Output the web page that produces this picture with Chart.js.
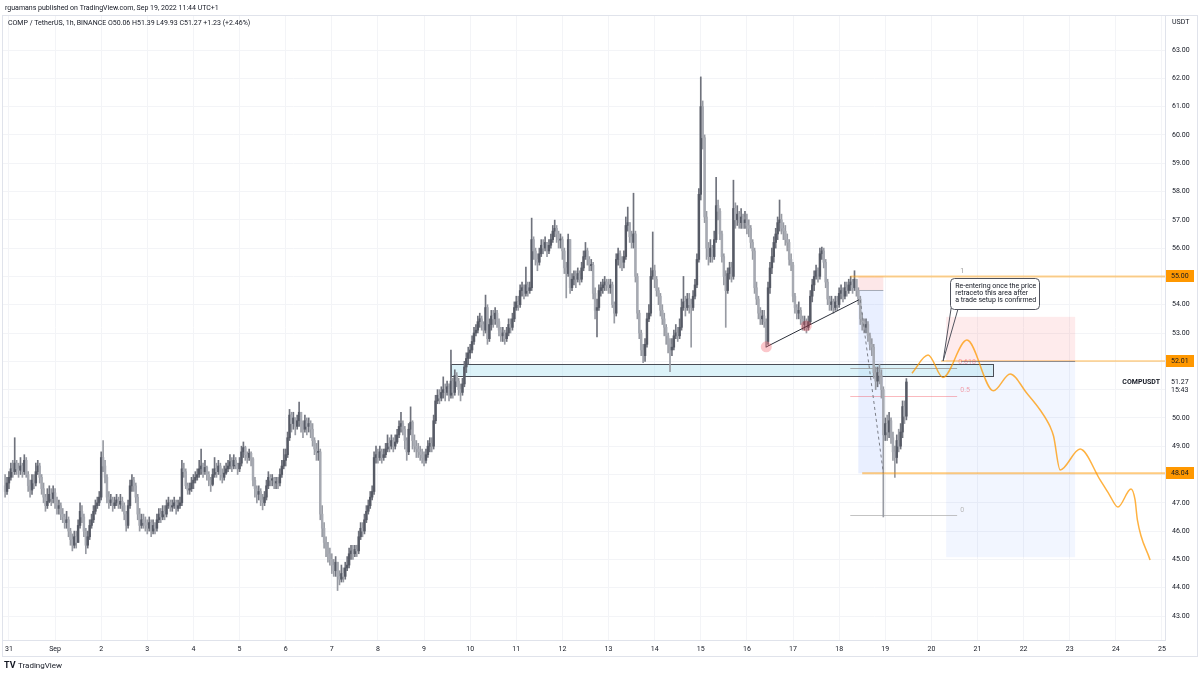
<!DOCTYPE html>
<html><head><meta charset="utf-8">
<script src="https://cdn.jsdelivr.net/npm/chart.js@4.4.0/dist/chart.umd.min.js"></script>
<style>html,body{margin:0;padding:0;background:#fff;}#wrap{position:relative;width:1200px;height:675px;}</style>
</head><body><div id="wrap"><canvas id="c" width="1200" height="675"></canvas></div>
<script>
// ---------- DATA (hourly candles, hour 0 = Aug 31 00:00) ----------
const firstHour = -2;
const firstOpen = 47.6;
const closes = [
 47.4,47.7,
 47.9,48.2,48.1,48.4,48.2,48.15,48.3,48.1,48.5,48.0,47.6,47.45,47.8,47.7,48.1,48.3,47.9,47.5,47.2,46.9,47.05,47.3,47.15,47.35,
 47.0,46.8,46.9,46.6,46.5,46.3,46.4,46.0,45.7,45.5,45.8,45.6,46.2,46.7,46.5,46.0,45.5,45.8,46.2,46.4,46.7,46.9,47.0,47.2,
 48.6,48.3,47.9,47.2,47.0,47.1,46.9,47.0,47.1,46.95,47.05,46.9,46.6,46.2,46.9,47.6,47.8,47.6,47.2,46.6,46.2,46.4,46.3,46.2,
 46.1,46.3,46.0,46.2,46.1,46.4,46.6,46.5,46.7,46.6,46.9,47.0,46.85,46.9,47.0,46.8,46.9,47.0,48.2,48.1,47.6,47.45,47.5,47.7,
 47.8,47.9,48.0,48.2,48.3,48.1,48.25,48.0,47.8,47.65,48.0,48.2,48.1,48.3,48.0,47.9,48.05,48.2,48.3,48.45,48.3,48.5,48.35,48.2,
 48.4,48.8,48.95,48.7,48.6,48.75,48.55,47.8,47.5,47.3,47.4,47.1,47.0,47.2,47.6,47.9,47.8,47.85,47.7,47.75,47.7,48.0,48.3,48.5,
 48.7,49.3,50.1,49.8,50.0,49.7,49.9,50.2,49.8,49.6,49.9,49.7,49.8,49.6,49.2,48.9,48.8,48.8,46.6,46.1,45.6,45.4,45.2,45.0,
 44.8,44.6,44.9,44.4,44.3,44.5,44.4,44.7,44.8,45.2,45.3,45.2,45.35,45.3,45.8,46.1,46.0,46.4,46.7,46.9,47.2,47.4,48.6,48.7,
 48.6,48.8,48.6,48.7,48.9,49.1,49.0,49.2,49.0,49.15,49.4,49.7,49.8,49.6,49.2,48.8,49.6,49.85,49.2,49.0,48.9,48.8,48.7,48.6,
 48.5,48.7,49.0,49.1,49.0,49.9,50.6,50.8,50.7,50.9,51.0,50.9,51.1,50.8,51.3,50.9,51.5,51.3,51.0,50.9,51.2,51.8,52.1,52.3,
 52.4,52.7,53.0,53.1,53.4,53.5,53.3,53.1,53.9,52.8,53.3,53.6,53.5,53.7,53.4,53.1,52.9,53.0,52.8,53.0,53.3,53.2,53.5,53.9,
 54.1,54.0,54.5,54.6,54.4,54.7,54.5,54.6,56.3,55.9,55.6,55.5,55.8,56.1,56.0,56.2,55.9,56.1,56.3,56.6,56.7,56.5,56.3,56.3,
 55.9,55.3,55.1,56.3,54.6,54.9,55.0,54.9,55.1,54.9,55.3,55.7,55.9,55.6,55.4,55.4,54.4,53.8,53.9,54.5,54.6,54.7,54.8,54.7,
 54.6,54.7,54.0,53.7,55.6,55.8,55.6,55.5,55.7,56.8,56.9,56.4,56.2,56.5,55.0,53.7,53.0,52.4,52.2,52.6,53.5,53.7,55.0,55.2,
 54.9,54.5,54.3,53.8,53.5,53.2,52.9,52.6,52.4,52.5,52.9,53.0,52.9,53.2,53.9,54.1,53.9,54.2,54.0,53.9,54.3,54.7,55.6,57.9,
 61.0,59.9,57.1,56.0,55.7,56.0,55.7,56.3,57.5,57.3,56.5,55.7,55.0,54.5,55.1,55.3,55.0,57.4,57.0,57.2,56.9,57.1,56.9,57.0,
 56.8,56.7,56.2,55.9,54.6,54.2,53.7,53.5,53.6,53.4,52.7,54.6,55.3,55.7,56.2,56.5,56.9,57.0,56.7,56.6,56.3,56.2,55.6,55.4,
 54.3,53.9,53.7,53.8,53.5,53.3,53.4,53.2,53.4,54.3,54.7,55.0,55.2,55.0,55.8,55.9,55.5,54.8,54.2,54.0,54.1,53.9,54.1,54.0,
 54.4,54.5,54.3,54.6,54.5,54.7,54.8,54.6,54.9,54.5,54.2,53.5,53.4,53.2,53.3,52.9,52.6,52.5,51.6,51.3,51.6,51.5,51.0,49.4,
 49.8,49.5,49.9,49.3,48.8,48.6,49.2,49.0,49.5,50.4,50.06,51.27
];
const highs = [
 48.0,47.9,
 48.1,48.4,48.5,49.3,48.5,48.4,48.6,48.4,48.7,48.6,48.1,47.8,48.0,48.0,48.4,48.5,48.4,48.0,47.7,47.3,47.5,47.6,47.5,47.6,
 47.5,47.2,47.1,47.0,46.8,46.6,46.7,46.5,46.1,45.9,46.0,46.0,46.4,47.0,46.9,46.6,46.1,46.0,46.4,46.6,46.9,47.1,47.2,47.4,
 48.8,49.2,48.5,48.0,47.4,47.3,47.2,47.2,47.3,47.2,47.3,47.2,47.0,46.7,47.1,47.8,48.0,47.9,47.7,47.3,46.8,46.6,46.6,46.5,
 46.4,46.5,46.4,46.4,46.3,46.6,46.8,46.8,46.9,46.9,47.1,47.2,47.1,47.1,47.2,47.1,47.1,47.2,48.5,48.4,48.2,47.7,47.7,47.9,
 48.0,48.1,48.2,48.5,48.9,48.4,48.5,48.3,48.1,47.9,48.2,48.6,48.4,48.5,48.4,48.2,48.3,48.4,48.5,48.7,48.6,48.7,48.6,48.4,
 48.6,49.0,49.15,49.0,48.8,48.9,48.8,48.6,47.9,47.6,47.6,47.5,47.3,47.4,47.8,48.1,48.0,48.0,47.9,47.9,47.9,48.2,48.5,48.9,
 48.9,49.5,50.3,50.2,50.2,50.0,50.1,50.56,50.2,49.9,50.1,50.0,50.0,49.9,49.8,49.3,49.1,49.2,48.9,46.9,46.3,45.8,45.6,45.4,
 45.2,45.0,45.1,44.9,44.6,44.8,44.7,44.9,45.1,45.4,45.5,45.5,45.5,45.5,46.0,46.3,46.3,46.6,46.9,47.1,47.4,47.6,48.8,49.0,
 48.9,49.0,48.9,48.9,49.1,49.4,49.3,49.4,49.3,49.4,49.6,49.9,50.2,49.9,49.7,49.3,49.8,50.39,49.9,49.4,49.2,49.1,49.0,48.9,
 48.8,48.9,49.2,49.3,49.3,50.1,50.8,51.0,51.0,51.1,51.45,51.2,51.3,51.2,52.4,51.4,51.7,51.6,51.4,51.2,51.4,52.0,52.3,52.5,
 52.6,52.9,53.2,53.3,53.6,53.7,53.6,53.4,54.34,54.0,53.5,53.8,53.8,53.9,53.8,53.5,53.2,53.2,53.1,53.2,53.5,53.5,53.7,54.1,
 54.3,54.3,54.7,54.8,54.7,55.33,54.8,54.8,57.06,56.4,56.0,55.8,56.0,56.3,56.3,56.4,56.2,56.3,56.5,56.8,56.99,56.8,56.6,56.5,
 56.4,56.0,55.5,56.5,56.3,55.1,55.2,55.2,55.3,55.2,55.5,55.9,56.2,56.0,55.7,55.6,55.5,54.6,54.2,54.7,54.8,54.9,55.0,54.9,
 54.9,54.9,54.8,54.1,55.8,56.0,55.9,55.7,55.9,57.1,57.45,56.9,56.6,57.94,56.6,55.1,53.8,53.1,52.6,52.8,53.7,54.0,55.3,56.57,
 55.4,55.0,54.6,54.4,54.0,53.7,53.3,53.0,52.8,52.8,53.1,53.3,53.2,53.5,54.2,55.0,54.3,54.4,54.4,54.2,54.5,54.9,55.8,58.1,
 62.05,61.2,60.0,57.3,56.2,56.3,56.1,56.6,58.5,57.7,57.4,56.6,55.8,55.2,55.3,55.5,55.5,58.4,57.6,57.5,57.3,57.4,57.2,57.3,
 57.2,57.0,56.8,56.3,56.0,54.8,54.3,53.9,53.8,53.8,53.5,54.8,55.5,56.0,56.4,56.7,57.1,57.7,57.2,56.9,56.8,56.5,56.3,55.8,
 55.5,54.4,54.0,54.1,53.9,53.6,53.6,53.5,53.6,54.5,54.9,55.2,55.4,55.3,56.0,56.04,56.0,55.6,54.9,54.3,54.3,54.2,54.3,54.3,
 54.6,54.7,54.6,54.8,54.8,54.9,55.0,54.9,55.2,54.9,54.6,54.3,53.7,53.5,53.5,53.4,53.0,52.8,52.6,51.8,51.8,51.9,51.7,51.1,
 50.0,50.1,50.2,50.0,49.5,49.0,49.4,49.6,49.8,50.6,50.6,51.39
];
const lows = [
 47.2,47.3,
 47.5,47.8,47.9,48.0,48.0,47.9,48.0,47.9,48.0,47.9,47.4,47.2,47.3,47.5,47.6,48.0,47.7,47.3,47.0,46.7,46.8,47.0,46.9,47.0,
 46.8,46.6,46.6,46.4,46.3,46.1,46.1,45.8,45.5,45.3,45.4,45.4,45.6,46.1,46.3,45.8,45.2,45.4,45.7,46.1,46.3,46.6,46.8,46.9,
 47.1,48.1,47.7,47.0,46.8,46.9,46.7,46.8,46.9,46.8,46.8,46.7,46.4,46.0,46.1,46.8,47.4,47.4,47.0,46.4,46.0,46.1,46.1,46.0,
 45.9,46.0,45.8,45.9,45.9,46.0,46.3,46.3,46.4,46.4,46.5,46.8,46.7,46.7,46.8,46.6,46.7,46.8,46.9,47.9,47.5,47.3,47.3,47.4,
 47.5,47.7,47.8,47.9,48.0,47.9,48.0,47.8,47.6,47.4,47.6,47.9,47.9,48.0,47.8,47.7,47.8,48.0,48.1,48.2,48.1,48.2,48.2,48.0,
 48.1,48.3,48.6,48.5,48.4,48.5,48.3,47.6,47.2,47.0,47.1,46.9,46.75,46.9,47.1,47.5,47.6,47.6,47.5,47.5,47.5,47.6,47.9,48.2,
 48.3,48.6,49.2,49.5,49.6,49.4,49.6,49.7,49.5,49.3,49.5,49.4,49.5,49.3,49.0,48.7,48.5,48.5,46.4,45.8,45.4,45.1,44.9,44.8,
 44.5,44.4,44.4,43.9,44.1,44.2,44.2,44.3,44.6,44.7,45.0,45.0,45.1,45.1,45.2,45.7,45.8,45.9,46.3,46.6,46.8,47.1,47.3,48.4,
 48.4,48.5,48.4,48.5,48.6,48.8,48.8,48.9,48.8,48.9,49.1,49.3,49.5,49.4,48.9,48.5,48.7,49.4,48.9,48.8,48.6,48.6,48.5,48.4,
 48.3,48.4,48.6,48.8,48.8,48.9,49.8,50.5,50.5,50.6,50.7,50.6,50.8,50.6,50.7,50.7,50.8,51.1,50.8,50.6,50.8,51.1,51.6,51.9,
 52.1,52.3,52.6,52.9,53.0,53.2,53.1,52.9,53.0,52.6,52.7,53.1,53.2,53.3,53.2,52.9,52.7,52.7,52.6,52.7,52.9,53.0,53.1,53.4,
 53.8,53.8,53.9,54.3,54.2,54.3,54.3,54.4,54.5,55.6,55.4,55.2,55.4,55.7,55.8,55.9,55.7,55.8,56.0,56.2,56.4,56.2,56.0,56.0,
 55.6,55.1,54.24,55.0,54.4,54.5,54.7,54.6,54.8,54.7,54.8,55.2,55.6,55.4,55.2,55.2,54.2,53.5,52.86,53.8,54.3,54.4,54.5,54.5,
 54.4,54.4,53.9,53.35,53.6,55.4,55.3,55.2,55.3,55.6,56.6,56.2,56.0,56.0,54.8,53.5,52.8,52.2,51.95,52.0,52.5,53.4,53.6,54.9,
 54.6,54.3,54.0,53.6,53.3,52.9,52.6,52.3,51.63,52.2,52.4,52.8,52.7,52.8,53.1,53.8,53.6,53.8,53.7,52.5,53.8,54.2,54.6,55.5,
 57.7,59.5,56.9,55.6,55.4,55.5,55.5,55.6,56.2,57.0,56.3,55.5,54.7,53.2,54.4,54.9,54.8,54.9,56.7,56.8,56.7,56.7,56.7,56.7,
 56.5,56.4,56.0,55.6,54.4,54.0,53.5,53.3,53.3,53.2,52.5,52.6,54.4,55.1,55.5,56.0,56.3,56.6,56.5,56.3,56.1,55.9,55.4,55.2,
 54.1,53.7,53.5,53.5,53.3,53.1,53.1,53.0,53.1,53.3,54.1,54.5,54.9,54.8,54.9,55.6,55.3,54.6,54.0,53.8,53.8,53.7,53.8,53.8,
 53.9,54.2,54.1,54.2,54.3,54.4,54.5,54.4,54.5,54.3,54.0,53.3,53.1,53.0,53.0,52.7,52.4,52.2,51.4,51.0,51.1,51.2,50.7,46.5,
 49.2,49.2,49.3,49.1,48.5,47.9,48.4,48.8,48.9,49.3,49.8,49.93
];
const dayLabels = ['31','Sep','2','3','4','5','6','7','8','9','10','11','12','13','14','15','16','17','18','19','20','21','22','23','24','25'];
const priceTicks = [43,44,45,46,47,48,49,50,51,52,53,54,55,56,57,58,59,60,61,62,63];
// projected path (hour, price)
const projHours  = [469.9,478.3,486.0,498.5,512.3,521.0,529.7,536.6,541.8,543.6,547.0,557.4,567.8,572.5,577.1,583.9,586.0,587.2,593.8];
const projPrices = [51.58,52.22,51.43,52.75,50.96,51.55,50.87,50.28,49.69,49.35,48.16,48.90,47.81,47.3,46.85,47.49,47.10,46.40,44.98];
// marked levels
const levelLabels = [55.00, 52.01, 48.04];
const lastPrice = 51.27;

// ---------- BUILD ----------
Chart.defaults.font.family = "Roboto, 'DejaVu Sans', sans-serif";
Chart.defaults.font.size = 7;
Chart.defaults.color = '#131722';
const hours = closes.map((_, i) => firstHour + i);
const opens = closes.map((c, i) => i === 0 ? firstOpen : closes[i - 1]);
const isUp = i => closes[i] >= opens[i];
const bodyCol = i => isUp(i) ? '#565a65' : '#a7aab2';
const wickCol = i => isUp(i) ? '#6f727c' : '#989ba3';
const wickData = closes.map((c, i) => ({x: hours[i], y: [Math.min(lows[i], opens[i], c), Math.max(highs[i], opens[i], c)]}));
const bodyData = closes.map((c, i) => { const o = opens[i]; return {x: hours[i], y: Math.abs(c - o) < 0.03 ? [o - 0.02, o + 0.02] : [o, c]}; });
const projData = projHours.map((h, i) => ({x: h, y: projPrices[i]}));

const overlay = {
  id: 'overlay',
  beforeDatasetsDraw(chart) {
    const {ctx, chartArea: a, scales: {x, y}} = chart;
    const X = v => x.getPixelForValue(v), Y = v => y.getPixelForValue(v);
    ctx.save();
    ctx.beginPath(); ctx.rect(a.left, a.top, a.right - a.left, a.bottom - a.top); ctx.clip();
    const rect = (h0, h1, p0, p1, fill) => { ctx.fillStyle = fill; ctx.fillRect(X(h0), Y(p0), X(h1) - X(h0), Y(p1) - Y(p0)); };
    rect(487.7, 554.8, 53.57, 52.01, 'rgba(242,54,69,0.10)');
    rect(487.7, 554.8, 52.01, 45.08, 'rgba(41,98,255,0.06)');
    rect(442.0, 455.0, 55.0, 54.52, 'rgba(242,54,69,0.12)');
    rect(442.0, 455.0, 54.52, 48.04, 'rgba(41,98,255,0.10)');
    ctx.strokeStyle = 'rgba(120,123,134,0.6)'; ctx.lineWidth = 1;
    ctx.beginPath(); ctx.moveTo(X(442), Y(54.52) + 0.5); ctx.lineTo(X(455), Y(54.52) + 0.5); ctx.stroke();
    const zx0 = X(229.8), zx1 = X(512.0), zy0 = Y(51.9), zy1 = Y(51.48);
    ctx.fillStyle = 'rgba(178,226,240,0.45)'; ctx.fillRect(zx0, zy0, zx1 - zx0, zy1 - zy0);
    ctx.strokeStyle = '#4b4e57'; ctx.lineWidth = 1;
    ctx.strokeRect(Math.round(zx0) + 0.5, Math.round(zy0) + 0.5, Math.round(zx1 - zx0), Math.round(zy1 - zy0));
    const fib = (p, col) => { ctx.strokeStyle = col; ctx.lineWidth = 1; ctx.beginPath(); ctx.moveTo(X(437.8), Math.round(Y(p)) + 0.5); ctx.lineTo(X(493.4), Math.round(Y(p)) + 0.5); ctx.stroke(); };
    fib(51.78, 'rgba(150,150,150,0.8)');
    fib(50.79, 'rgba(242,54,69,0.35)');
    fib(46.57, 'rgba(170,170,170,0.7)');
    ctx.restore();
  },
  afterDatasetsDraw(chart) {
    const {ctx, chartArea: a, scales: {x, y}} = chart;
    const X = v => x.getPixelForValue(v), Y = v => y.getPixelForValue(v);
    ctx.save();
    ctx.beginPath(); ctx.rect(a.left, a.top, a.right - a.left, a.bottom - a.top); ctx.clip();
    const hline = (h0, p, col, w) => { ctx.strokeStyle = col; ctx.lineWidth = w; ctx.beginPath(); ctx.moveTo(X(h0), Y(p)); ctx.lineTo(a.right, Y(p)); ctx.stroke(); };
    hline(437.8, 55.00, 'rgba(255,152,0,0.45)', 2);
    hline(485.0, 52.01, 'rgba(255,152,0,0.7)', 1);
    hline(444.0, 48.04, 'rgba(255,152,0,0.5)', 2);
    ctx.strokeStyle = 'rgba(120,123,134,0.8)'; ctx.lineWidth = 1;
    ctx.beginPath(); ctx.moveTo(X(495.5), Math.round(Y(52.01)) + 0.5); ctx.lineTo(X(554.8), Math.round(Y(52.01)) + 0.5); ctx.stroke();
    ctx.font = '7px Roboto, sans-serif'; ctx.textBaseline = 'middle'; ctx.textAlign = 'left';
    ctx.fillStyle = '#9a9a9a'; ctx.fillText('1', X(495.0), Y(55.18));
    ctx.fillStyle = 'rgba(242,54,69,0.45)'; ctx.fillText('0.618', X(494.0), Y(51.97));
    ctx.fillStyle = 'rgba(242,54,69,0.45)'; ctx.fillText('0.5', X(495.0), Y(50.96));
    ctx.fillStyle = '#b8b8b8'; ctx.fillText('0', X(495.0), Y(46.73));
    ctx.strokeStyle = '#2a2e39'; ctx.lineWidth = 1;
    ctx.beginPath(); ctx.moveTo(X(394.1), Y(52.51)); ctx.lineTo(X(442.2), Y(54.17)); ctx.stroke();
    ctx.fillStyle = 'rgba(242,54,69,0.28)';
    [[394.1, 52.51], [414.9, 53.25]].forEach(([h, p]) => { ctx.beginPath(); ctx.arc(X(h), Y(p), 5.5, 0, Math.PI * 2); ctx.fill(); });
    ctx.setLineDash([3, 3]); ctx.strokeStyle = '#7a7d86';
    ctx.beginPath(); ctx.moveTo(X(443), Y(54.17)); ctx.lineTo(X(455), Y(48.05)); ctx.stroke();
    ctx.setLineDash([]);
    const bx0 = X(489.8), bx1 = X(536.1), by0 = Y(54.943), by1 = Y(53.848);
    ctx.fillStyle = '#fff'; ctx.strokeStyle = '#50535e'; ctx.lineWidth = 1;
    ctx.beginPath(); ctx.moveTo(X(490.3), by1 - 1); ctx.lineTo(X(486.1), Y(52.01)); ctx.lineTo(X(494.0), by1 - 1); ctx.stroke();
    ctx.beginPath();
    if (ctx.roundRect) ctx.roundRect(Math.round(bx0) + 0.5, Math.round(by0) + 0.5, Math.round(bx1 - bx0), Math.round(by1 - by0), 4); else ctx.rect(bx0, by0, bx1 - bx0, by1 - by0);
    ctx.fill(); ctx.stroke();
    ctx.fillStyle = '#131722'; ctx.font = '7px Roboto, sans-serif'; ctx.textBaseline = 'middle';
    ['Re-entering once the price', 'retraceto this area after', 'a trade setup is confirmed'].forEach((t, i) => ctx.fillText(t, bx0 + 5, by0 + 8.5 + i * 7));
    ctx.restore();
  },
  afterDraw(chart) {
    const {ctx, scales: {y}} = chart;
    const Y = v => y.getPixelForValue(v);
    ctx.save();
    ctx.strokeStyle = '#e0e3eb'; ctx.lineWidth = 1;
    ctx.strokeRect(2.5, 15.5, 1195, 641);
    ctx.fillStyle = '#131722'; ctx.textBaseline = 'middle'; ctx.textAlign = 'left';
    ctx.font = '7px Roboto, sans-serif';
    ctx.fillText('rguamans published on TradingView.com, Sep 19, 2022 11:44 UTC+1', 5, 8);
    ctx.fillText('COMP / TetherUS, 1h, BINANCE O50.06 H51.39 L49.93 C51.27 +1.23 (+2.46%)', 8, 23);
    ctx.fillText('USDT', 1172, 22);
    levelLabels.forEach(p => {
      const yy = Math.round(Y(p));
      ctx.fillStyle = '#ff9800'; ctx.fillRect(1166, yy - 6, 28, 12);
      ctx.fillStyle = '#131722'; ctx.fillText(p.toFixed(2), 1171, yy + 0.5);
    });
    const ly = Math.round(Y(lastPrice));
    ctx.fillStyle = '#fff'; ctx.fillRect(1166, ly - 6, 28, 17);
    ctx.fillStyle = '#131722';
    ctx.fillText(lastPrice.toFixed(2), 1171, ly);
    ctx.fillText('15:43', 1171, ly + 8);
    ctx.textAlign = 'right'; ctx.font = 'bold 7px Roboto, sans-serif';
    ctx.fillText('COMPUSDT', 1160, ly);
    ctx.textAlign = 'left';
    ctx.font = 'bold 9px Roboto, sans-serif'; ctx.fillText('TV', 4, 666);
    ctx.font = '8px Roboto, sans-serif'; ctx.fillText('TradingView', 18, 666);
    ctx.restore();
  }
};

new Chart(document.getElementById('c'), {
  type: 'bar',
  data: {
    datasets: [
      {type: 'line', data: projData, borderColor: 'rgba(255,152,0,0.75)', borderWidth: 1.5, pointRadius: 0, cubicInterpolationMode: 'monotone', fill: false, order: 0},
      {data: wickData, backgroundColor: ctx => wickCol(ctx.dataIndex), barThickness: 1, grouped: false, order: 2},
      {data: bodyData, backgroundColor: ctx => bodyCol(ctx.dataIndex), barThickness: 1.8, grouped: false, order: 1}
    ]
  },
  options: {
    responsive: false, animation: false, devicePixelRatio: 1,
    layout: {padding: {top: 15, left: 2, right: 0, bottom: 18}},
    plugins: {legend: {display: false}, tooltip: {enabled: false}},
    scales: {
      x: {
        type: 'linear', min: -3.12, max: 601.57, offset: false,
        grid: {offset: false, color: '#f3f4f7', drawTicks: false},
        border: {display: true, color: '#e0e3eb'},
        ticks: {padding: 5, maxRotation: 0, autoSkip: false, color: '#131722', font: {size: 7},
          callback: v => dayLabels[Math.round(v / 24)]},
        afterBuildTicks: s => { s.ticks = dayLabels.map((_, k) => ({value: 24 * k})); },
        afterFit: s => { s.height = 17; }
      },
      y: {
        position: 'right', min: 42.152, max: 64.237,
        grid: {color: '#f3f4f7', drawTicks: false},
        border: {display: true, color: '#e0e3eb'},
        ticks: {padding: 7, color: '#131722', font: {size: 7}, callback: v => v.toFixed(2)},
        afterBuildTicks: s => { s.ticks = priceTicks.map(v => ({value: v})); },
        afterFit: s => { s.width = 35; }
      }
    }
  },
  plugins: [overlay]
});
</script></body></html>
